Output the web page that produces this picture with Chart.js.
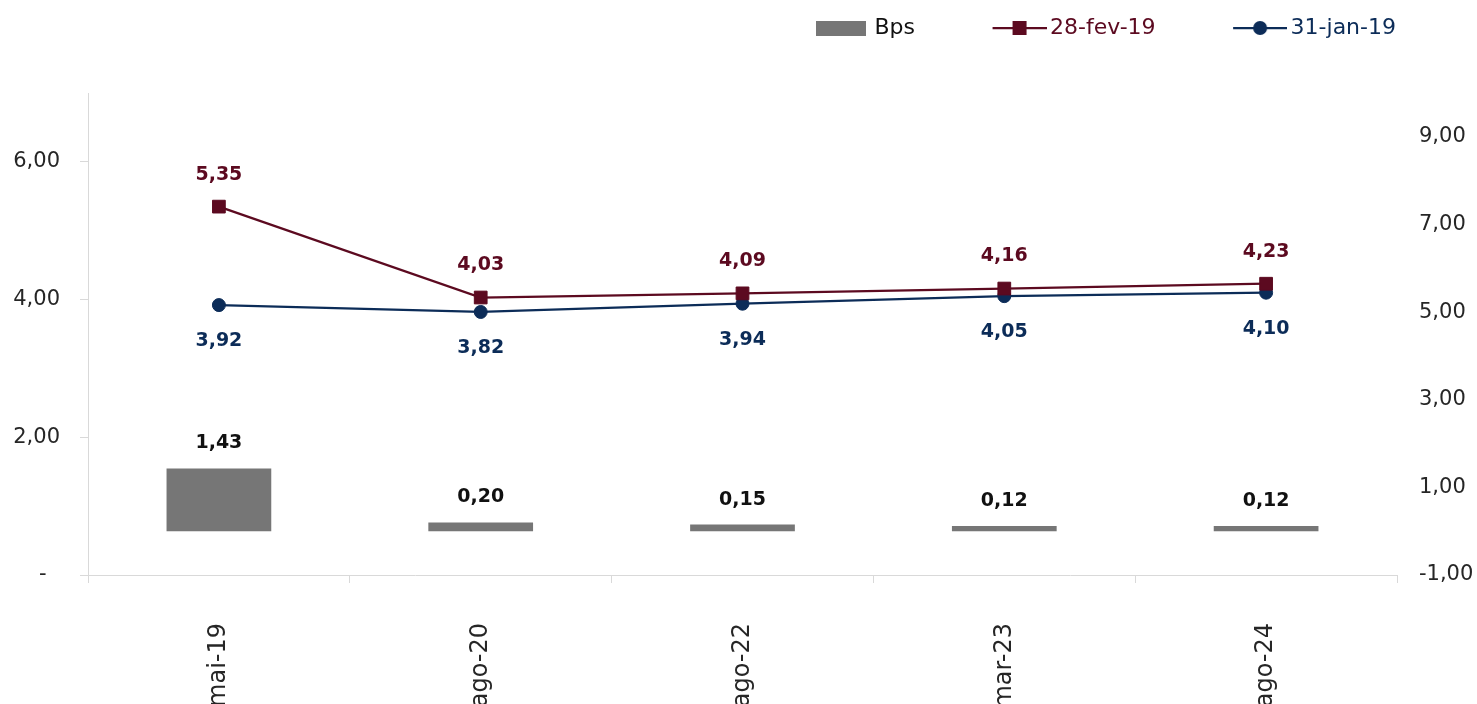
<!DOCTYPE html>
<html>
<head>
<meta charset="utf-8">
<script src="https://cdn.jsdelivr.net/npm/chart.js@4/dist/chart.umd.min.js"></script>
<style>
  html, body { margin: 0; padding: 0; background: #fff; }
</style>
</head>
<body>
<canvas id="canvas" width="1477" height="704"></canvas>
<script>
// values
var categories = ['mai-19', 'ago-20', 'ago-22', 'mar-23', 'ago-24'];
var bps = [1.43, 0.20, 0.15, 0.12, 0.12];
var fev19 = [5.35, 4.03, 4.09, 4.16, 4.23];
var jan19 = [3.92, 3.82, 3.94, 4.05, 4.10];
var leftTicks = [0, 2, 4, 6];
var rightTicks = [-1, 1, 3, 5, 7, 9];

var maroon = '#5c0a20';
var navy = '#0c2c58';
var grey = '#767676';
var axisGrey = '#d9d9d9';
var textCol = '#262626';
var family = '"DejaVu Sans", sans-serif';

function fmt(v) {
  return v.toFixed(2).replace('.', ',');
}

// little pictures for the legend (line + marker, or box)
function legendPic(kind, color) {
  var c = document.createElement('canvas');
  c.width = 129; c.height = 22;
  var g = c.getContext('2d');
  var W = c.width, mid = 11;
  g.fillStyle = color;
  g.strokeStyle = color;
  if (kind === 'box') {
    g.fillRect(W - 55, mid - 7, 50, 15);
  } else {
    g.lineWidth = 2.25;
    g.beginPath();
    g.moveTo(W - 54, mid);
    g.lineTo(W, mid);
    g.stroke();
    var cx = W - 27;
    if (kind === 'rect') {
      g.fillRect(cx - 7, mid - 7, 14, 14);
    } else {
      g.beginPath();
      g.arc(cx, mid, 7, 0, Math.PI * 2);
      g.fill();
    }
  }
  return c;
}

// value labels drawn next to bars and points
var valueLabels = {
  id: 'valueLabels',
  afterDatasetsDraw: function (chart) {
    var ctx = chart.ctx;
    chart.data.datasets.forEach(function (ds, i) {
      var meta = chart.getDatasetMeta(i);
      ctx.save();
      ctx.font = 'bold 19px ' + family;
      ctx.fillStyle = ds.labelColor;
      ctx.textAlign = 'center';
      ctx.textBaseline = 'middle';
      meta.data.forEach(function (el, j) {
        ctx.fillText(fmt(ds.data[j]), el.x, el.y + ds.labelDy);
      });
      ctx.restore();
    });
  }
};

// legend ends above the right edge of the plot, not at the canvas edge
var legendShift = {
  id: 'legendShift',
  afterLayout: function (chart) {
    if (chart.legend) chart.legend.right = chart.chartArea.right + 9;
  }
};

var ctx = document.getElementById('canvas').getContext('2d');
var chart = new Chart(ctx, {
  type: 'bar',
  data: {
    labels: categories,
    datasets: [{
      type: 'bar',
      label: 'Bps',
      data: bps,
      yAxisID: 'y1',
      backgroundColor: grey,
      categoryPercentage: 1,
      barPercentage: 0.4,
      order: 3,
      labelColor: '#111111',
      labelDy: -25
    }, {
      type: 'line',
      label: '28-fev-19',
      data: fev19,
      yAxisID: 'y',
      borderColor: maroon,
      backgroundColor: maroon,
      borderWidth: 2.25,
      pointStyle: 'rect',
      pointRadius: 9,
      pointBorderWidth: 1,
      tension: 0,
      order: 1,
      labelColor: maroon,
      labelDy: -32
    }, {
      type: 'line',
      label: '31-jan-19',
      data: jan19,
      yAxisID: 'y',
      borderColor: navy,
      backgroundColor: navy,
      borderWidth: 2.25,
      pointStyle: 'circle',
      pointRadius: 6.5,
      pointBorderWidth: 1,
      tension: 0,
      order: 2,
      labelColor: navy,
      labelDy: 36
    }]
  },
  options: {
    responsive: false,
    devicePixelRatio: 1,
    animation: false,
    layout: { padding: { top: 7, right: 0, bottom: 0, left: 0 } },
    plugins: {
      tooltip: { enabled: false },
      title: {
        // empty spacer between legend and plot
        display: true, text: '', weight: 500, padding: 0,
        font: { size: 44, lineHeight: 1 }
      },
      legend: {
        position: 'top',
        align: 'end',
        labels: {
          usePointStyle: true,
          pointStyleWidth: 114,
          padding: 10,
          font: { family: family, size: 22 },
          generateLabels: function () {
            return [
              { text: 'Bps', fontColor: '#111111', pointStyle: legendPic('box', grey), hidden: false, datasetIndex: 0, lineWidth: 0 },
              { text: '28-fev-19', fontColor: maroon, pointStyle: legendPic('rect', maroon), hidden: false, datasetIndex: 1, lineWidth: 0 },
              { text: '31-jan-19', fontColor: navy, pointStyle: legendPic('circle', navy), hidden: false, datasetIndex: 2, lineWidth: 0 }
            ];
          }
        }
      }
    },
    scales: {
      x: {
        offset: true,
        grid: { display: true, drawOnChartArea: false, offset: true, tickLength: 8, color: axisGrey },
        border: { display: true, color: axisGrey },
        ticks: {
          minRotation: 90, maxRotation: 90, autoSkip: false, padding: 40,
          color: textCol, font: { family: family, size: 24 }
        },
        afterFit: function (s) { s.height = 129; }
      },
      y: {
        position: 'left',
        min: 0, max: 7,
        afterBuildTicks: function (s) { s.ticks = leftTicks.map(function (v) { return { value: v }; }); },
        grid: { drawOnChartArea: false, tickLength: 8, color: axisGrey },
        border: { display: true, color: axisGrey },
        ticks: {
          padding: 20, color: textCol, font: { family: family, size: 21 },
          callback: function (v) { return v === 0 ? '-  ' : fmt(v); }
        },
        afterFit: function (s) { s.width = 88; }
      },
      y1: {
        position: 'right',
        min: -1, max: 10,
        afterBuildTicks: function (s) { s.ticks = rightTicks.map(function (v) { return { value: v }; }); },
        grid: { display: false, drawTicks: false },
        border: { display: false },
        ticks: {
          padding: 22, color: textCol, font: { family: family, size: 21 },
          callback: function (v) { return fmt(v); }
        },
        afterFit: function (s) { s.width = 80; }
      }
    }
  },
  plugins: [valueLabels, legendShift]
});
</script>
</body>
</html>
